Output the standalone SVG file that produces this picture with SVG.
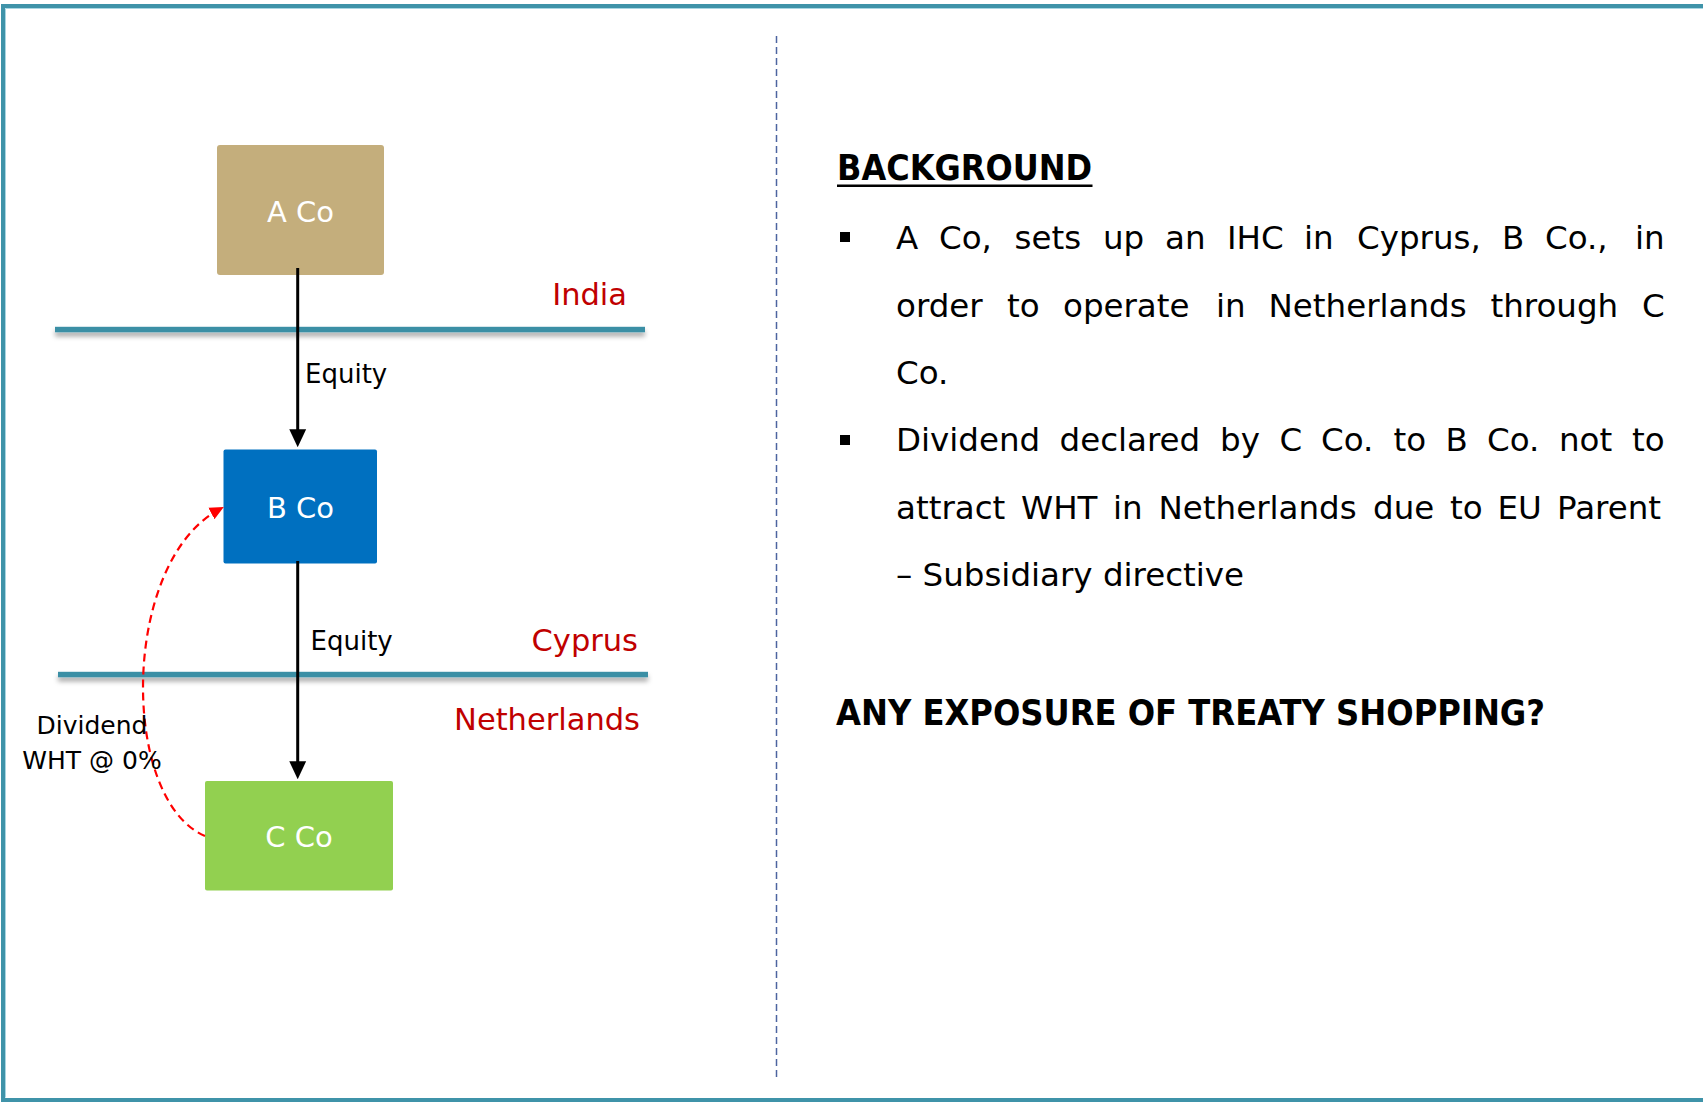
<svg xmlns="http://www.w3.org/2000/svg" width="1703" height="1102" viewBox="0 0 1703 1102">
  <style>
    .t { font-family: "DejaVu Sans", "Liberation Sans", sans-serif; }
    .box-label { font-size: 29px; fill: #ffffff; text-anchor: middle; }
    .country { font-size: 30.5px; fill: #c00000; text-anchor: end; }
    .edge-label { font-size: 26px; fill: #000000; }
    .side-label { font-size: 25px; fill: #000000; text-anchor: middle; }
    .body { font-size: 32.5px; fill: #000000; }
    .head { font-size: 36px; font-weight: bold; fill: #000000; }
    .boundary { fill: #3b8fa5; }
    .equity { fill: none; stroke: #000000; stroke-width: 3; }
    .dividend { fill: none; stroke: #ff0000; stroke-width: 2.2; stroke-dasharray: 8 5; }
  </style>
  <defs>
    <marker id="arrow-black" markerUnits="userSpaceOnUse" markerWidth="18" markerHeight="18" viewBox="0 0 16 15" refX="6" refY="7.5" orient="auto">
      <path d="M0,0 L16,7.5 L0,15 Z" fill="#000000"/>
    </marker>
    <marker id="arrow-red" markerUnits="userSpaceOnUse" markerWidth="14" markerHeight="14" viewBox="0 0 13 12" refX="9" refY="6" orient="auto">
      <path d="M0,0 L13,6 L0,12 Z" fill="#ff0000"/>
    </marker>
    <filter id="line-shadow" filterUnits="userSpaceOnUse" x="0" y="0" width="1703" height="1102">
      <feDropShadow dx="0" dy="4" stdDeviation="2.5" flood-color="#000000" flood-opacity="0.35"/>
    </filter>
  </defs>

  <rect width="1703" height="1102" fill="#ffffff"/>

  <!-- frame -->
  <rect x="3" y="6" width="1760" height="1094" fill="none" stroke="#3f93a9" stroke-width="4"/>
  <path d="M5.5,1097.5 V8.5 H1703" fill="none" stroke="#a9d6e2" stroke-width="1"/>

  <!-- centre divider -->
  <line x1="776.5" y1="36" x2="776.5" y2="1078" stroke="#4d64a0" stroke-width="1.5" stroke-dasharray="7 4"/>

  <!-- jurisdiction boundaries -->
  <g id="boundaries">
    <rect class="boundary" x="55" y="326.8" width="590" height="5.5" filter="url(#line-shadow)"/>
    <rect class="boundary" x="58" y="671.8" width="590" height="5.5" filter="url(#line-shadow)"/>
    <text class="t country" x="627" y="305">India</text>
    <text class="t country" x="638" y="651">Cyprus</text>
    <text class="t country" x="640" y="730">Netherlands</text>
  </g>

  <!-- entities -->
  <g id="node-a-co">
    <rect x="217" y="145" width="167" height="130" rx="3" fill="#c4ae7c"/>
    <text class="t box-label" x="300.5" y="222">A Co</text>
  </g>
  <g id="node-b-co">
    <rect x="223.5" y="449.5" width="153.5" height="114" rx="2" fill="#0070c0"/>
    <text class="t box-label" x="300.5" y="518">B Co</text>
  </g>
  <g id="node-c-co">
    <rect x="205" y="781" width="188" height="109.5" rx="2" fill="#92d050"/>
    <text class="t box-label" x="299" y="847">C Co</text>
  </g>

  <!-- connectors -->
  <g id="connectors">
    <path class="equity" d="M297.7,268 V436" marker-end="url(#arrow-black)"/>
    <text class="t edge-label" x="305" y="383">Equity</text>
    <path class="equity" d="M297.7,561 V768" marker-end="url(#arrow-black)"/>
    <text class="t edge-label" x="310.5" y="650">Equity</text>
    <path class="dividend" d="M205,836 C120,800 120,562 220,509" marker-end="url(#arrow-red)"/>
    <text class="t side-label" x="92" y="733.5">Dividend</text>
    <text class="t side-label" x="92" y="769">WHT @ 0%</text>
  </g>

  <!-- background notes -->
  <g id="notes">
    <text class="t head" x="837" y="180" textLength="255" lengthAdjust="spacingAndGlyphs">BACKGROUND</text>
    <rect x="837" y="184.5" width="255.5" height="2.5" fill="#000000"/>

    <!-- justified paragraph lines: one tspan per word -->
    <rect x="840" y="232" width="10" height="10" fill="#000000"/>
    <text class="t body" y="249"><tspan x="896">A</tspan><tspan x="939">Co,</tspan><tspan x="1014.5">sets</tspan><tspan x="1103">up</tspan><tspan x="1165">an</tspan><tspan x="1227">IHC</tspan><tspan x="1304">in</tspan><tspan x="1357">Cyprus,</tspan><tspan x="1502">B</tspan><tspan x="1545">Co.,</tspan><tspan x="1635">in</tspan></text>
    <text class="t body" y="316.5"><tspan x="896">order</tspan><tspan x="1007">to</tspan><tspan x="1063">operate</tspan><tspan x="1216">in</tspan><tspan x="1268.5">Netherlands</tspan><tspan x="1490.5">through</tspan><tspan x="1642">C</tspan></text>
    <text class="t body" x="896" y="384">Co.</text>

    <rect x="840" y="435" width="10" height="10" fill="#000000"/>
    <text class="t body" y="451"><tspan x="896">Dividend</tspan><tspan x="1059.5">declared</tspan><tspan x="1220">by</tspan><tspan x="1279.5">C</tspan><tspan x="1321">Co.</tspan><tspan x="1393.5">to</tspan><tspan x="1445.5">B</tspan><tspan x="1487">Co.</tspan><tspan x="1559">not</tspan><tspan x="1632">to</tspan></text>
    <text class="t body" y="518.5"><tspan x="896">attract</tspan><tspan x="1021">WHT</tspan><tspan x="1113">in</tspan><tspan x="1158.5">Netherlands</tspan><tspan x="1373">due</tspan><tspan x="1450">to</tspan><tspan x="1497.5">EU</tspan><tspan x="1557">Parent</tspan></text>
    <text class="t body" x="896" y="585.5">– Subsidiary directive</text>

    <text class="t head" x="836" y="724.5" textLength="709" lengthAdjust="spacingAndGlyphs">ANY EXPOSURE OF TREATY SHOPPING?</text>
  </g>
</svg>
